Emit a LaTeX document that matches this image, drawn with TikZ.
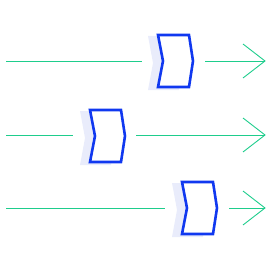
\documentclass[tikz,border=0pt]{standalone}
\usetikzlibrary{calc}
\definecolor{lnGreen}{RGB}{30,205,140}
\definecolor{chBlue}{RGB}{16,56,240}
\definecolor{chShadow}{RGB}{233,236,251}
\tikzset{
  flow/.style={draw=lnGreen, line width=0.9pt},
  chevbox/.style={draw=chBlue, line width=2.6pt, fill=white, line join=miter},
  chevshadow/.style={fill=chShadow},
  pics/chevron/.style={code={
    \fill[chevshadow] (-10,-25) -- (21,-25) -- (25,2) -- (21,29) -- (-10,29) -- (-5,2) -- cycle;
    \draw[chevbox] (0,-26) -- (31,-26) -- (35,0) -- (31,26) -- (0,26) -- (5,0) -- cycle;
  }}
}
\begin{document}
\begin{tikzpicture}[x=1pt,y=-1pt]
\useasboundingbox (0,0) rectangle (270,270);
% row 1
\coordinate (a1) at (6,61); \coordinate (b1) at (142,61);
\coordinate (c1) at (205,61); \coordinate (d1) at (265,61);
\draw[flow] (a1) -- (b1);
\pic at (158,61) {chevron};
\draw[flow] (c1) -- (d1);
\draw[flow] ($(d1)+(-22,-17)$) -- (d1) -- ($(d1)+(-22,17)$);
% row 2
\coordinate (a2) at (6,135); \coordinate (b2) at (73,135);
\coordinate (c2) at (136,135); \coordinate (d2) at (265,135);
\draw[flow] (a2) -- (b2);
\pic at (90,136) {chevron};
\draw[flow] (c2) -- (d2);
\draw[flow] ($(d2)+(-22,-17)$) -- (d2) -- ($(d2)+(-22,17)$);
% row 3
\coordinate (a3) at (6,208); \coordinate (b3) at (165,208);
\coordinate (c3) at (229,208); \coordinate (d3) at (265,208);
\draw[flow] (a3) -- (b3);
\pic at (182,208) {chevron};
\draw[flow] (c3) -- (d3);
\draw[flow] ($(d3)+(-22,-17)$) -- (d3) -- ($(d3)+(-22,17)$);
\end{tikzpicture}
\end{document}
